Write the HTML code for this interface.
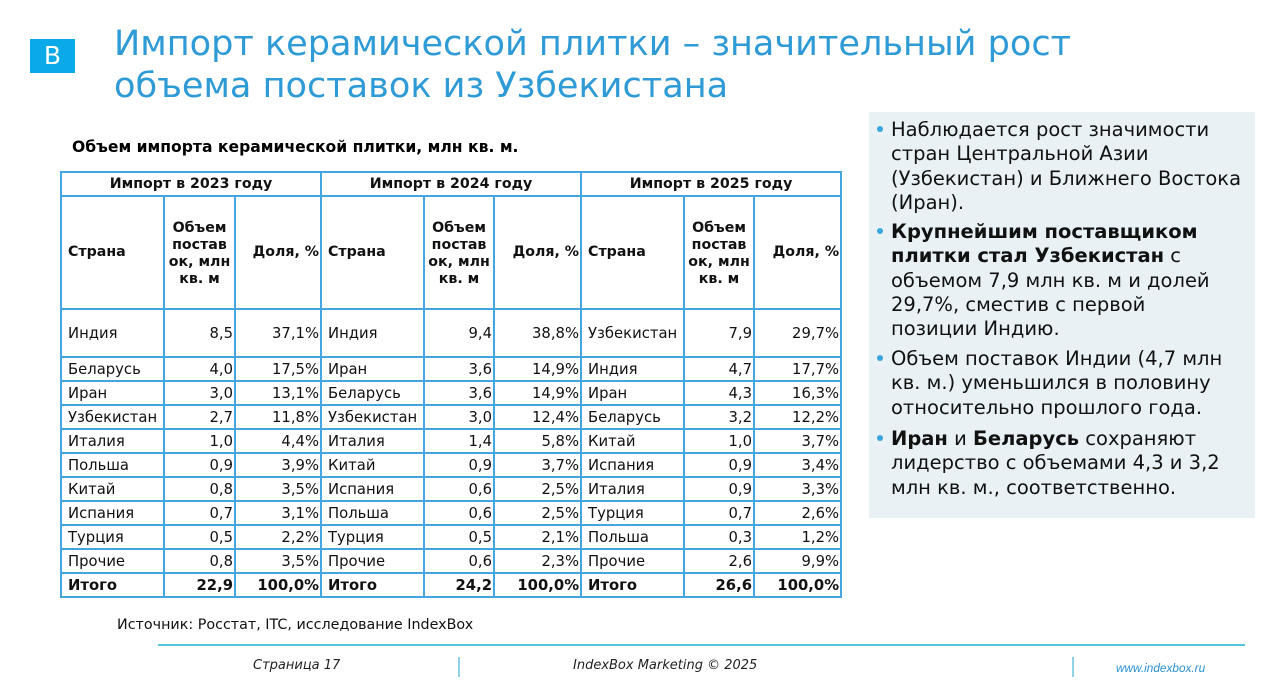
<!DOCTYPE html>
<html>
<head>
<meta charset="utf-8">
<style>
  html,body{margin:0;padding:0;}
  body{width:1280px;height:688px;position:relative;background:#ffffff;overflow:hidden;
       font-family:"DejaVu Sans","Liberation Sans",sans-serif;color:#000;}
  .logo{position:absolute;left:30px;top:39px;width:45px;height:34px;background:#0aa9e8;
        color:#fff;font-size:25px;line-height:34px;text-align:center;font-family:"DejaVu Sans",sans-serif;}
  .title{position:absolute;left:114px;top:23px;font-size:35.1px;line-height:42px;color:#2e9ad6;white-space:nowrap;}
  .sub{position:absolute;left:72px;top:137px;font-size:15.6px;font-weight:bold;white-space:nowrap;line-height:20px;}
  table{position:absolute;left:60px;top:171px;border-collapse:collapse;table-layout:fixed;width:780px;}
  td{border:2px solid #45a6df;padding:0 1px 0 6px;font-size:14.8px;white-space:nowrap;overflow:visible;line-height:17px;color:#111;}
  td.n{text-align:right;padding:0 1px 0 0;}
  tr.h td{font-weight:bold;font-size:14.2px;}
  td.c{text-align:center;padding:0;}
  tr.t td{font-weight:bold;}
  .panel{position:absolute;left:869px;top:112px;width:386px;height:406px;background:#e9f1f4;}
  .bl{position:absolute;left:891px;font-size:19.5px;line-height:24.3px;white-space:nowrap;color:#111;}
  .dot{position:absolute;left:877px;width:6px;height:6px;border-radius:50%;background:#3aa4dc;}
  .src{position:absolute;left:117px;top:617px;font-size:14.3px;white-space:nowrap;color:#111;}
  .fline{position:absolute;left:158px;top:644px;width:1087px;height:2px;background:#55c6de;}
  .vsep{position:absolute;width:2px;background:#8fd3e6;}
  .ft{position:absolute;top:658px;font-family:"DejaVu Sans",sans-serif;font-style:italic;font-size:13px;color:#222;white-space:nowrap;}
  .www{position:absolute;left:1116px;top:661px;font-family:"Liberation Sans",sans-serif;font-style:italic;font-size:11.8px;color:#2a8fd0;}
</style>
</head>
<body>
<div class="logo">B</div>
<div class="title">Импорт керамической плитки – значительный рост<br>объема поставок из Узбекистана</div>

<div class="sub">Объем импорта керамической плитки, млн кв. м.</div>

<table>
<colgroup>
<col style="width:103px"><col style="width:71px"><col style="width:86px">
<col style="width:103px"><col style="width:70px"><col style="width:87px">
<col style="width:103px"><col style="width:70px"><col style="width:87px">
</colgroup>
<tr class="h" style="height:24px"><td colspan="3" class="c">Импорт в 2023 году</td><td colspan="3" class="c">Импорт в 2024 году</td><td colspan="3" class="c">Импорт в 2025 году</td></tr>
<tr class="h" style="height:113px">
<td>Страна</td><td class="c" style="padding-top:3px">Объем<br>постав<br>ок, млн<br>кв. м</td><td class="n">Доля, %</td>
<td>Страна</td><td class="c" style="padding-top:3px">Объем<br>постав<br>ок, млн<br>кв. м</td><td class="n">Доля, %</td>
<td>Страна</td><td class="c" style="padding-top:3px">Объем<br>постав<br>ок, млн<br>кв. м</td><td class="n">Доля, %</td>
</tr>
<tr style="height:48px"><td>Индия</td><td class="n">8,5</td><td class="n">37,1%</td><td>Индия</td><td class="n">9,4</td><td class="n">38,8%</td><td>Узбекистан</td><td class="n">7,9</td><td class="n">29,7%</td></tr>
<tr style="height:24px"><td>Беларусь</td><td class="n">4,0</td><td class="n">17,5%</td><td>Иран</td><td class="n">3,6</td><td class="n">14,9%</td><td>Индия</td><td class="n">4,7</td><td class="n">17,7%</td></tr>
<tr style="height:24px"><td>Иран</td><td class="n">3,0</td><td class="n">13,1%</td><td>Беларусь</td><td class="n">3,6</td><td class="n">14,9%</td><td>Иран</td><td class="n">4,3</td><td class="n">16,3%</td></tr>
<tr style="height:24px"><td>Узбекистан</td><td class="n">2,7</td><td class="n">11,8%</td><td>Узбекистан</td><td class="n">3,0</td><td class="n">12,4%</td><td>Беларусь</td><td class="n">3,2</td><td class="n">12,2%</td></tr>
<tr style="height:24px"><td>Италия</td><td class="n">1,0</td><td class="n">4,4%</td><td>Италия</td><td class="n">1,4</td><td class="n">5,8%</td><td>Китай</td><td class="n">1,0</td><td class="n">3,7%</td></tr>
<tr style="height:24px"><td>Польша</td><td class="n">0,9</td><td class="n">3,9%</td><td>Китай</td><td class="n">0,9</td><td class="n">3,7%</td><td>Испания</td><td class="n">0,9</td><td class="n">3,4%</td></tr>
<tr style="height:24px"><td>Китай</td><td class="n">0,8</td><td class="n">3,5%</td><td>Испания</td><td class="n">0,6</td><td class="n">2,5%</td><td>Италия</td><td class="n">0,9</td><td class="n">3,3%</td></tr>
<tr style="height:24px"><td>Испания</td><td class="n">0,7</td><td class="n">3,1%</td><td>Польша</td><td class="n">0,6</td><td class="n">2,5%</td><td>Турция</td><td class="n">0,7</td><td class="n">2,6%</td></tr>
<tr style="height:24px"><td>Турция</td><td class="n">0,5</td><td class="n">2,2%</td><td>Турция</td><td class="n">0,5</td><td class="n">2,1%</td><td>Польша</td><td class="n">0,3</td><td class="n">1,2%</td></tr>
<tr style="height:24px"><td>Прочие</td><td class="n">0,8</td><td class="n">3,5%</td><td>Прочие</td><td class="n">0,6</td><td class="n">2,3%</td><td>Прочие</td><td class="n">2,6</td><td class="n">9,9%</td></tr>
<tr class="t" style="height:24px"><td>Итого</td><td class="n">22,9</td><td class="n">100,0%</td><td>Итого</td><td class="n">24,2</td><td class="n">100,0%</td><td>Итого</td><td class="n">26,6</td><td class="n">100,0%</td></tr>
</table>

<div class="panel"></div>
<div class="dot" style="top:126px"></div>
<div class="bl" style="top:118px">Наблюдается рост значимости<br>стран Центральной Азии<br>(Узбекистан) и Ближнего Востока<br>(Иран).</div>
<div class="dot" style="top:228px"></div>
<div class="bl" style="top:220px"><b>Крупнейшим поставщиком</b><br><b>плитки стал Узбекистан</b> с<br>объемом 7,9 млн кв. м и долей<br>29,7%, сместив с первой<br>позиции Индию.</div>
<div class="dot" style="top:355px"></div>
<div class="bl" style="top:347px">Объем поставок Индии (4,7 млн<br>кв. м.) уменьшился в половину<br>относительно прошлого года.</div>
<div class="dot" style="top:435px"></div>
<div class="bl" style="top:427px"><b>Иран</b> и <b>Беларусь</b> сохраняют<br>лидерство с объемами 4,3 и 3,2<br>млн кв. м., соответственно.</div>

<div class="src">Источник: Росстат, ITC, исследование IndexBox</div>

<div class="fline"></div>
<div class="vsep" style="left:458px;top:657px;height:20px"></div>
<div class="vsep" style="left:1072px;top:657px;height:20px"></div>
<div class="ft" style="left:253px">Страница 17</div>
<div class="ft" style="left:573px">IndexBox Marketing © 2025</div>
<div class="www">www.indexbox.ru</div>
</body>
</html>
